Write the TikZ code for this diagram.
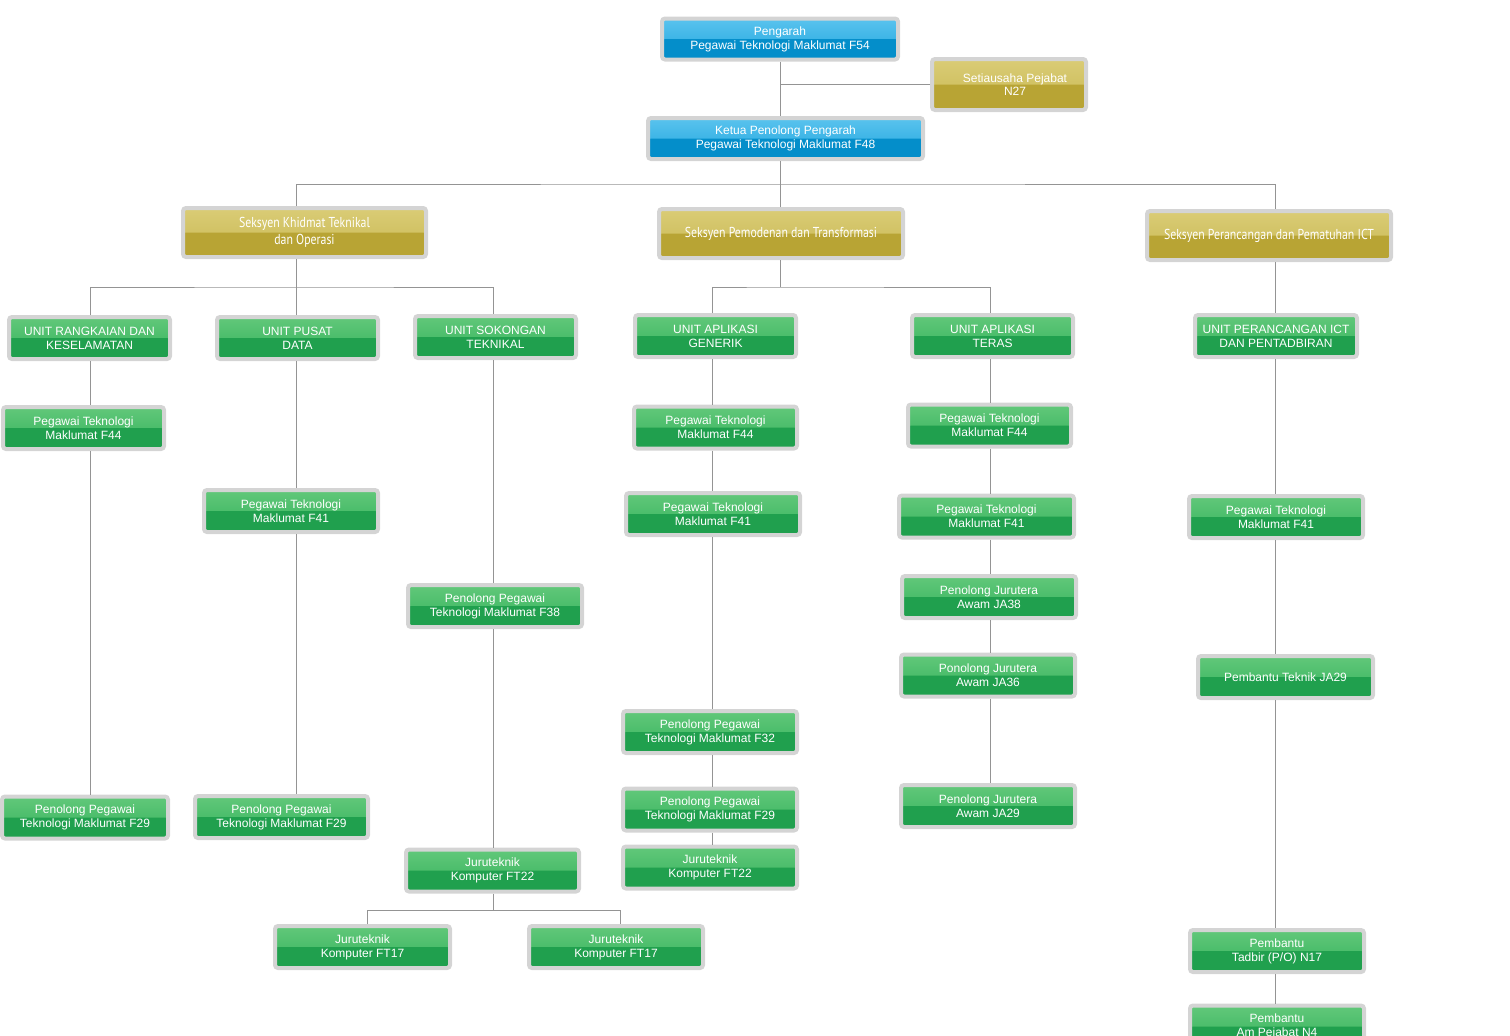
\documentclass[tikz,border=0pt]{standalone}
\usepackage{fontspec}
\setmainfont{Liberation Sans}
\newfontfamily\secfont[FakeStretch=0.82]{PT Sans}
\tikzset{
  link/.style = {draw = black!42, line width = 0.8pt},
  box/.style = {rectangle, rounded corners = 3pt, draw = black!17, line width = 4pt,
    align = center, text = white, inner sep = 1pt, minimum height = 42,
    font = \fontsize{12}{14.2}\selectfont},
  halfshade/.style = {path picture = {\fill[#1] (path picture bounding box.west) rectangle (path picture bounding box.south east);}},
  greenbox/.style = {box, top color = greenHi, bottom color = greenMid, halfshade = greenLow},
  bluebox/.style = {box, top color = blueHi, bottom color = blueMid, halfshade = blueLow},
  goldbox/.style = {box, top color = goldHi, bottom color = goldMid, halfshade = goldLow, minimum height = 49},
  secbox/.style = {goldbox, font = \secfont\fontsize{14.4}{17}\selectfont}
}
\begin{document}
\begin{tikzpicture}[x = 1pt, y = -1pt]
\definecolor{greenHi}{RGB}{98,200,122}
\definecolor{greenMid}{RGB}{52,178,92}
\definecolor{greenLow}{RGB}{32,160,78}
\definecolor{blueHi}{RGB}{90,195,238}
\definecolor{blueMid}{RGB}{32,166,222}
\definecolor{blueLow}{RGB}{4,142,202}
\definecolor{goldHi}{RGB}{218,204,118}
\definecolor{goldMid}{RGB}{200,184,82}
\definecolor{goldLow}{RGB}{184,164,52}
\useasboundingbox (0,0) rectangle (1510,1036);
\clip (0,0) rectangle (1510,1036);
% line positions
\coordinate (busTop) at (780,184);
\coordinate (busK) at (296,287);
\coordinate (busP) at (780,287);
\coordinate (busJ) at (493,910);
\coordinate (colA) at (90,0);
\coordinate (colB) at (296,0);
\coordinate (colC) at (493,0);
\coordinate (colD) at (712,0);
\coordinate (colE) at (990,0);
\coordinate (colF) at (1275,0);
\coordinate (colCl) at (367,0);
\coordinate (colCr) at (620,0);
% top
\node[bluebox, minimum width = 236, minimum height = 41] (pengarah) at (780,39) {Pengarah\\Pegawai Teknologi Maklumat F54};
\node[bluebox, minimum width = 275, minimum height = 41] (ketua) at (785.5,138.5) {Ketua Penolong Pengarah\\Pegawai Teknologi Maklumat F48};
\node[goldbox, minimum width = 154, minimum height = 51] (setia) at (1009,84.5) {\hspace{12pt}Setiausaha Pejabat\\[-1pt]\hspace{12pt}N27};
% sections
\node[secbox, minimum width = 243] (skto) at (304.5,232.5) {Seksyen Khidmat Teknikal\\dan Operasi};
\node[secbox, minimum width = 244] (spt) at (781,233.5) {Seksyen Pemodenan dan Transformasi};
\node[secbox, minimum width = 244] (sppi) at (1269,235.5) {Seksyen Perancangan dan Pematuhan ICT};
% units
\node[greenbox, minimum width = 161] (u1) at (89.5,338) {UNIT RANGKAIAN DAN\\KESELAMATAN};
\node[greenbox, minimum width = 161] (u2) at (297.5,338) {UNIT PUSAT\\DATA};
\node[greenbox, minimum width = 161] (u3) at (495.5,337) {UNIT SOKONGAN\\TEKNIKAL};
\node[greenbox, minimum width = 161] (u4) at (715.5,336) {UNIT APLIKASI\\GENERIK};
\node[greenbox, minimum width = 161] (u5) at (992.5,336) {UNIT APLIKASI\\TERAS};
\node[greenbox, minimum width = 162] (u6) at (1276,336) {UNIT PERANCANGAN ICT\\DAN PENTADBIRAN};
% posts
\node[greenbox, minimum width = 161] (a1) at (83.5,428) {Pegawai Teknologi\\Maklumat F44};
\node[greenbox, minimum width = 166] (a2) at (85,817.5) {Penolong Pegawai\\Teknologi Maklumat F29};
\node[greenbox, minimum width = 174] (b1) at (291,511) {Pegawai Teknologi\\Maklumat F41};
\node[greenbox, minimum width = 173] (b2) at (281.5,817) {Penolong Pegawai\\Teknologi Maklumat F29};
\node[greenbox, minimum width = 174] (c1) at (495,606) {Penolong Pegawai\\Teknologi Maklumat F38};
\node[greenbox, minimum width = 173] (c2) at (492.5,870.5) {Juruteknik\\Komputer FT22};
\node[greenbox, minimum width = 175] (c3) at (362.5,947) {Juruteknik\\Komputer FT17};
\node[greenbox, minimum width = 174] (c4) at (616,947) {Juruteknik\\Komputer FT17};
\node[greenbox, minimum width = 163] (d1) at (715.5,427.5) {Pegawai Teknologi\\Maklumat F44};
\node[greenbox, minimum width = 174] (d2) at (713,514) {Pegawai Teknologi\\Maklumat F41};
\node[greenbox, minimum width = 174] (d3) at (710,732) {Penolong Pegawai\\Teknologi Maklumat F32};
\node[greenbox, minimum width = 174] (d4) at (710,809.5) {Penolong Pegawai\\Teknologi Maklumat F29};
\node[greenbox, minimum width = 174] (d5) at (710,867.5) {Juruteknik\\Komputer FT22};
\node[greenbox, minimum width = 163] (e1) at (989.5,425.5) {Pegawai Teknologi\\Maklumat F44};
\node[greenbox, minimum width = 175] (e2) at (986.5,516.5) {Pegawai Teknologi\\Maklumat F41};
\node[greenbox, minimum width = 174] (e3) at (989,597) {Penolong Jurutera\\Awam JA38};
\node[greenbox, minimum width = 174] (e4) at (988,675.5) {Ponolong Jurutera\\Awam JA36};
\node[greenbox, minimum width = 174] (e5) at (988,806) {Penolong Jurutera\\Awam JA29};
\node[greenbox, minimum width = 174] (f1) at (1276,517) {Pegawai Teknologi\\Maklumat F41};
\node[greenbox, minimum width = 175] (f2) at (1285.5,677) {Pembantu Teknik JA29};
\node[greenbox, minimum width = 174] (f3) at (1277,951) {Pembantu\\Tadbir (P/O) N17};
\node[greenbox, minimum width = 174] (f4) at (1277,1026.5) {Pembantu\\Am Pejabat N4};
% connectors
\draw[link] (pengarah.south -| busTop) -- (ketua.north -| busTop);
\draw[link] (setia.west) -- (setia.west -| busTop);
\draw[link] (ketua.south -| busTop) -- (busTop);
\draw[link] (skto.north -| colB) |- (busTop) -| (sppi.north -| colF);
\draw[link] (spt.north -| busTop) -- (busTop);
\draw[link] (skto.south -| busK) -- (busK);
\draw[link] (u1.north -| colA) |- (busK) -| (u3.north -| colC);
\draw[link] (u2.north -| busK) -- (busK);
\draw[link] (spt.south -| busP) -- (busP);
\draw[link] (u4.north -| colD) |- (busP) -| (u5.north -| colE);
\draw[link] (c2.south -| busJ) -- (busJ);
\draw[link] (c3.north -| colCl) |- (busJ) -| (c4.north -| colCr);
\foreach \a/\b/\c in {sppi/u6/colF, u1/a1/colA, a1/a2/colA, u2/b1/colB, b1/b2/colB, u3/c1/colC, c1/c2/colC,
  u4/d1/colD, d1/d2/colD, d2/d3/colD, d3/d4/colD, d4/d5/colD,
  u5/e1/colE, e1/e2/colE, e2/e3/colE, e3/e4/colE, e4/e5/colE,
  u6/f1/colF, f1/f2/colF, f2/f3/colF, f3/f4/colF}
  \draw[link] (\a.south -| \c) -- (\b.north -| \c);
\end{tikzpicture}
\end{document}
